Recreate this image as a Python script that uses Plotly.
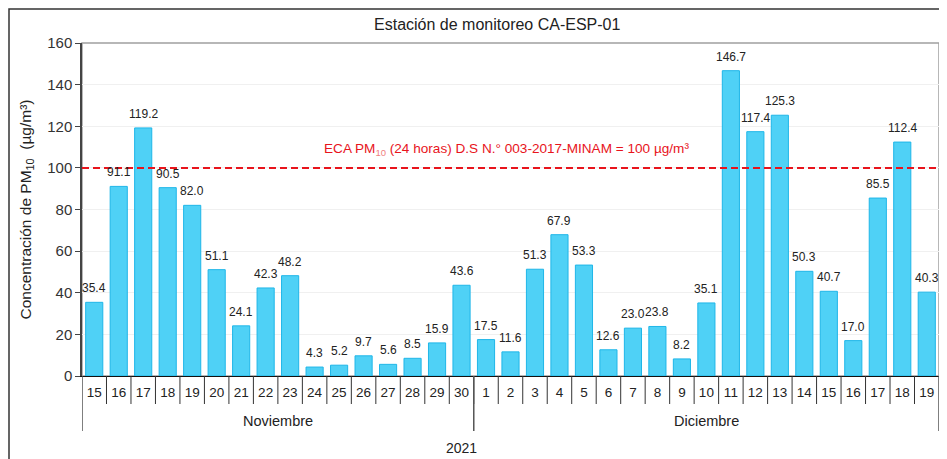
import plotly.graph_objects as go

nov_days = [str(d) for d in range(15, 31)]
nov_vals = [35.4, 91.1, 119.2, 90.5, 82.0, 51.1, 24.1, 42.3, 48.2, 4.3, 5.2, 9.7, 5.6, 8.5, 15.9, 43.6]
dec_days = [str(d) for d in range(1, 20)]
dec_vals = [17.5, 11.6, 51.3, 67.9, 53.3, 12.6, 23.0, 23.8, 8.2, 35.1, 146.7, 117.4, 125.3, 50.3, 40.7, 17.0, 85.5, 112.4, 40.3]
month_names = ["Noviembre", "Diciembre"]
month_days = [nov_days, dec_days]
year_label = "2021"
eca_limit = 100

days = nov_days + dec_days
values = nov_vals + dec_vals
idx = list(range(len(days)))
n = len(days)

FONT = "Liberation Sans, Arial, sans-serif"

# the page has an 8px body margin, so the figure is laid out 8px smaller
W, HT = 939, 451
ML, MR, MT, MB = 74, 8, 35, 83
H = HT - MT - MB
PW = W - ML - MR

fig = go.Figure()
fig.add_trace(go.Bar(
    x=idx, y=values, width=0.7,
    marker=dict(color="#4fd1f6", line=dict(color="#1fb6e8", width=1)),
    showlegend=False, hoverinfo="x+y",
))

# value labels above bars
for i, v in zip(idx, values):
    fig.add_annotation(xref="x", yref="y", x=i, y=v, yanchor="bottom", yshift=5,
                       showarrow=False, text=f"{v:.1f}",
                       font=dict(size=12, color="#222", family=FONT))

fig.update_layout(
    width=W, height=HT,
    margin=dict(l=ML, r=MR, t=MT, b=MB, autoexpand=False),
    paper_bgcolor="white", plot_bgcolor="white",
    font=dict(family=FONT, color="#222"),
    title=dict(text="Estación de monitoreo CA-ESP-01", x=0.521, xanchor="center",
               y=0.9645, yanchor="middle", font=dict(size=16, color="#222", family=FONT)),
    xaxis=dict(
        range=[-0.5, n - 0.5], tickmode="array", tickvals=idx, ticktext=days,
        showline=True, linecolor="#111", linewidth=1,
        ticks="outside", ticklen=4, tickcolor="rgba(0,0,0,0)",
        tickfont=dict(size=13.5, color="#222", family=FONT),
        showgrid=False, zeroline=False, automargin=False, fixedrange=True,
    ),
    yaxis=dict(
        range=[0, 160], dtick=20, showline=True, linecolor="#444", linewidth=1.5,
        ticks="outside", ticklen=5, tickcolor="#444",
        tickfont=dict(size=15, color="#333", family=FONT),
        gridcolor="#f0f0f0", zeroline=False, automargin=False,
        title=dict(text="Concentración de PM<sub>10</sub>  (µg/m³)",
                   font=dict(size=15.5, color="#222", family=FONT), standoff=12),
    ),
)

# plot-area frame (gray top/right)
fig.add_shape(type="rect", xref="paper", yref="paper", x0=0, x1=1, y0=0, y1=1,
              line=dict(color="#a0a0a0", width=1.5), layer="below")
# outer chart border
fig.add_shape(type="rect", xref="paper", yref="paper", x0=-(ML - 1) / PW, x1=1.05,
              y0=-0.4, y1=1 + (MT - 1) / H,
              line=dict(color="#333", width=1.5))

# day separators (between categories)
for i in range(1, n):
    fig.add_shape(type="line", xref="x", yref="paper", x0=i - 0.5, x1=i - 0.5,
                  y0=0, y1=-28 / H, line=dict(color="#333", width=1))

# month group dividers and labels
start = 0
bounds = [start]
for name, dl in zip(month_names, month_days):
    end = start + len(dl)
    bounds.append(end)
    fig.add_annotation(xref="x", yref="paper", x=(start + end - 1) / 2, y=-45 / H,
                       yanchor="middle", showarrow=False, text=name,
                       font=dict(size=14.5, color="#222", family=FONT))
    start = end
for b in bounds:
    fig.add_shape(type="line", xref="x", yref="paper", x0=b - 0.5, x1=b - 0.5,
                  y0=0, y1=-55 / H, line=dict(color="#555", width=1.5))

# ECA limit line
fig.add_hline(y=eca_limit, line=dict(color="#e8141c", width=2, dash="7px,4px"))
fig.add_annotation(
    xref="paper", yref="y", x=0.495, y=108.6, yanchor="middle", showarrow=False,
    text="ECA PM<sub><span style='color:#f08080'>10</span></sub> (24 horas) D.S N.° 003-2017-MINAM = 100 µg/m³",
    font=dict(size=13.6, color="#e8141c", family=FONT),
)

# year label (third category level)
fig.add_annotation(xref="paper", yref="paper", x=(461 - 82) / 857, y=-72 / H, yanchor="middle",
                   showarrow=False, text=year_label,
                   font=dict(size=14, color="#222", family=FONT))

fig.write_html("out.html")
